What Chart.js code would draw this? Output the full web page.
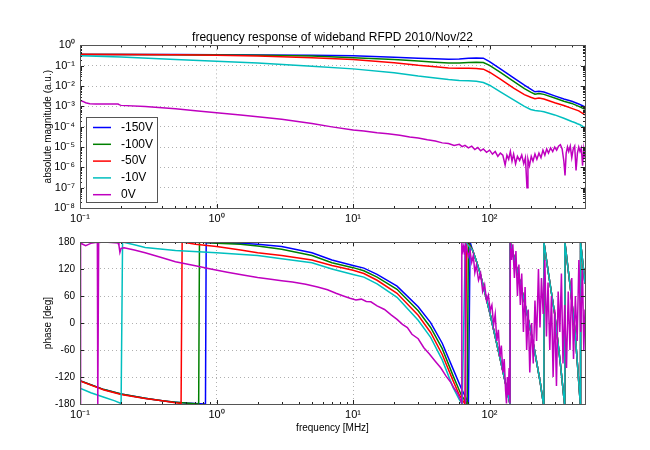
<!DOCTYPE html>
<html>
<head>
<meta charset="utf-8">
<script src="https://cdn.jsdelivr.net/npm/chart.js@4.4.0/dist/chart.umd.min.js"></script>
<style>
  html, body { margin: 0; padding: 0; background: #fff; }
  #wrap { position: relative; width: 650px; height: 450px; }
  .panel { position: absolute; left: 0; width: 650px; height: 225px; }
</style>
</head>
<body>
<div id="wrap">
  <div class="panel" style="top:0"><canvas id="magChart"></canvas></div>
  <div class="panel" style="top:225px"><canvas id="phaseChart"></canvas></div>
</div>
<script>
// ---- series and axes ----
const seriesLabels = ['-150V', '-100V', '-50V', '-10V', '0V'];
const seriesColors = ['#0000ff', '#008000', '#ff0000', '#00bfbf', '#bf00bf'];

const freqTicks = [0.1, 1, 10, 100];
const freqTickLabels = ['10⁻¹', '10⁰', '10¹', '10²'];
const magTicks = [1e-8, 1e-7, 1e-6, 1e-5, 1e-4, 1e-3, 1e-2, 1e-1, 1];
const magTickLabels = ['10⁻⁸', '10⁻⁷', '10⁻⁶', '10⁻⁵', '10⁻⁴', '10⁻³', '10⁻²', '10⁻¹', '10⁰'];
const phaseTicks = [-180, -120, -60, 0, 60, 120, 180];

// ---- magnitude (a.u.) ----
const magFreq = [0.1, 0.2, 0.5, 1, 2, 5, 10, 20, 30, 40,
                 50, 60, 70, 80, 90, 100, 120, 150, 180, 200,
                 215, 230, 250, 300, 350, 400, 450, 500];
const mag150 = [0.36, 0.36, 0.355, 0.35, 0.34, 0.33, 0.31, 0.26, 0.235, 0.22,
                0.21, 0.215, 0.23, 0.24, 0.235, 0.16, 0.07, 0.025, 0.011, 0.007,
                0.0052, 0.0056, 0.0051, 0.0033, 0.0023, 0.0018, 0.0013, 0.00095];
const mag100 = [0.36, 0.355, 0.35, 0.34, 0.33, 0.3, 0.25, 0.2, 0.17, 0.15,
                0.135, 0.135, 0.145, 0.15, 0.145, 0.105, 0.047, 0.017, 0.0075, 0.005,
                0.004, 0.0043, 0.0039, 0.0026, 0.0018, 0.0014, 0.001, 0.00072];
const mag50 = [0.37, 0.36, 0.345, 0.33, 0.3, 0.25, 0.2, 0.14, 0.105, 0.09,
               0.078, 0.075, 0.075, 0.074, 0.068, 0.048, 0.022, 0.008, 0.0038, 0.0028,
               0.0024, 0.0026, 0.0023, 0.0015, 0.0011, 0.0008, 0.0006, 0.00038];
const magFreq10 = [0.1, 0.2, 0.5, 1, 2, 5, 10, 20, 30, 40,
                   50, 60, 70, 80, 90, 100, 120, 150, 180, 200,
                   215, 230, 250, 300, 350, 400, 420, 440, 460, 475,
                   490, 500];
const mag10 = [0.31, 0.27, 0.2, 0.165, 0.135, 0.095, 0.07, 0.045, 0.031, 0.025,
               0.021, 0.019, 0.018, 0.017, 0.015, 0.011, 0.0052, 0.0021, 0.001, 0.0007,
               0.00062, 0.0006, 0.00054, 0.00038, 0.00026, 0.00018, 0.00016, 0.00014, 0.000125, 0.00011,
               0.000095, 0.00008];
const magFreq0 = [0.1, 0.105, 0.11, 0.118, 0.13, 0.15, 0.17, 0.19, 0.195, 0.2,
                  0.3, 0.5, 0.7, 1, 1.5, 2, 3, 5, 7, 10,
                  12, 15, 18, 22, 26, 30, 35, 40, 45, 50,
                  55, 60, 63, 66, 70, 74, 78, 82, 86, 90,
                  95, 100, 105, 110, 115, 120, 125, 130, 134, 138,
                  142, 146, 150, 155, 160, 166, 172, 178, 183, 188,
                  191, 196, 202, 208, 215, 222, 230, 238, 246, 254,
                  262, 270, 280, 290, 300, 310, 320, 330, 340, 350,
                  357, 364, 372, 380, 390, 400, 410, 420, 430, 440,
                  450, 460, 470, 480, 490, 500];
const mag0 = [2.0e-3, 1.75e-3, 1.5e-3, 1.35e-3, 1.32e-3, 1.3e-3, 1.3e-3, 1.3e-3, 1.18e-3, 1.12e-3,
              9.8e-4, 7.6e-4, 6.1e-4, 4.8e-4, 3.8e-4, 3.1e-4, 2.3e-4, 1.45e-4, 9.8e-5, 6.8e-5,
              6.2e-5, 5.0e-5, 4.5e-5, 3.8e-5, 3.1e-5, 2.8e-5, 2.3e-5, 2.0e-5, 1.6e-5, 1.5e-5,
              1.2e-5, 1.35e-5, 1.05e-5, 1.2e-5, 9e-6, 1.1e-5, 7.5e-6, 9.5e-6, 6.5e-6, 8e-6,
              5.5e-6, 7e-6, 4.5e-6, 6e-6, 3.5e-6, 5e-6, 4e-6, 1.3e-6, 4e-6, 2.5e-6,
              6e-6, 2e-6, 4.5e-6, 1.5e-6, 3.5e-6, 2.2e-6, 4e-6, 1.5e-6, 3e-6, 1e-7,
              2.5e-6, 1.2e-6, 3.5e-6, 2e-6, 4.5e-6, 2.5e-6, 5e-6, 3e-6, 7e-6, 4e-6,
              8e-6, 5e-6, 9e-6, 6e-6, 1.0e-5, 7e-6, 1.1e-5, 1.3e-5, 8e-6, 2e-6,
              4e-7, 5e-6, 1.0e-5, 6e-6, 1.1e-5, 3e-6, 8e-6, 1.1e-5, 7e-7, 5e-6,
              1.0e-5, 6e-6, 9e-6, 1.2e-6, 8e-6, 3e-6];

// ---- phase (deg) ----
const phaseFreq150 = [0.1, 0.15, 0.2, 0.3, 0.4, 0.5, 0.6, 0.7, 0.83, 0.84,
                      1, 1.5, 2, 3, 5, 7, 10, 12, 15, 21,
                      30, 37, 45, 54, 62, 70, 72];
const phase150 = [-128, -148, -158, -167, -173, -176, -178, -179, -180, 179,
                  178, 177, 175, 170, 156, 140, 128, 122, 108, 82,
                  36, 1, -45, -102, -145, -178, 180];
const phaseFreq100 = [0.1, 0.15, 0.2, 0.3, 0.4, 0.5, 0.6, 0.74, 0.75, 1,
                      1.5, 2, 3, 5, 7, 10, 12, 15, 21, 30,
                      37, 45, 54, 62, 68.5, 70];
const phase100 = [-128, -148, -158, -167, -173, -176, -178, -180, 180, 177,
                  175, 171, 164, 150, 134, 123, 116, 102, 75, 27,
                  -10, -57, -117, -160, -180, 180];
const phaseFreq50 = [0.1, 0.15, 0.2, 0.3, 0.4, 0.5, 0.55, 0.56, 0.7, 1,
                     1.5, 2, 3, 5, 7, 10, 12, 15, 21, 30,
                     37, 45, 54, 60, 66, 68];
const phase50 = [-129, -149, -159, -168, -173, -177, -179, 180, 175, 170,
                 162, 156, 150, 140, 128, 117, 110, 95, 66, 17,
                 -21, -70, -128, -160, -180, 180];
const phaseFreq10 = [0.1, 0.12, 0.15, 0.18, 0.2, 0.205, 0.25, 0.3, 0.5, 1,
                     2, 3, 5, 7, 10, 12, 15, 21, 30, 37,
                     45, 54, 60, 63, 66.5];
const phase10 = [-145, -155, -165, -173, -179, 180, 174, 168, 161, 156,
                 150, 143, 134, 120, 108, 102, 87, 57, 6, -32,
                 -82, -143, -170, -180, 180];
// above ~75 MHz the four biased curves lie on one wrapped line
const phaseTailFreq = [75, 80, 85, 92, 100, 108, 118, 130, 141, 141.5,
                       150, 166, 188, 211, 235, 248, 250, 270, 300, 330,
                       354, 356, 390, 420, 440, 462, 464, 500];
const phaseTail = [162, 138, 112, 70, 25, -20, -72, -130, -180, 180,
                   150, 96, 22, -52, -132, -180, 180, 110, 20, -90,
                   -180, 180, 80, -10, -90, -180, 180, 88];
const phaseFreq0 = [0.1, 0.101, 0.103, 0.11, 0.12, 0.13, 0.134, 0.135, 0.137, 0.15,
                    0.17, 0.19, 0.193, 0.196, 0.2, 0.21, 0.25, 0.3, 0.4, 0.5,
                    0.7, 0.87, 1.2, 1.6, 2, 2.5, 3, 3.6, 4.5, 5.5,
                    6.5, 7.5, 8.5, 9.5, 10.5, 11.5, 12.5, 13.5, 15, 17,
                    19, 21, 23, 25, 27, 30, 33, 36, 40, 44,
                    48, 52, 55, 58, 60, 61.5, 62.3, 62.6, 63.5, 64.5,
                    65.5, 66.2, 66.5, 66.8, 68, 70, 72, 74, 76, 78,
                    80, 83, 86, 89, 92, 95, 98, 101, 104, 107,
                    110, 113, 116, 119, 122, 125, 128, 131, 133, 135,
                    137, 139, 141, 142, 145, 148, 152, 156, 160, 164,
                    168, 172, 177, 182, 187, 192, 197, 203, 209, 215,
                    221, 228, 234, 240, 247, 254, 261, 268, 276, 284,
                    292, 300, 309, 318, 327, 336, 345, 355, 366, 377,
                    388, 400, 412, 425, 438, 451, 465, 479, 490, 500];
const phase0 = [-180, 178, 176, 172, 177, 179, 179, -180, 179, 180,
                179, 178, 172, 157, 166, 167, 162, 156, 145, 136,
                127, 121, 113, 106, 101, 97, 94, 91, 86, 80,
                74, 66, 60, 55, 51, 53, 48, 47, 38, 30,
                18, 8, -3, -10, -25, -35, -55, -68, -85, -100,
                -118, -132, -145, -155, -165, -172, -178, 178, 160, 170,
                152, 172, -179, 176, 165, 148, 160, 135, 150, 112,
                128, 95, 110, 70, 85, 50, 62, 28, 40, -5,
                20, -40, -15, -75, -50, -110, -80, -150, -179, -120,
                -160, -100, -179, 178, 140, 175, 100, 160, 60, 130,
                40, 110, -20, 80, -60, 30, -110, 0, -90, 50,
                -40, 120, -10, 100, 20, 140, -30, 90, -60, 60,
                -120, 30, -140, 70, -20, 110, -90, 40, -100, 70,
                -60, 100, -80, 60, -40, 140, -20, 120, -60, 30];

Chart.defaults.font.family = '"Liberation Sans", Arial, sans-serif';
Chart.defaults.font.size = 10;
Chart.defaults.color = '#000';

function toPoints(xs, ys) {
    return xs.map((x, i) => ({ x: x, y: ys[i] }));
}

// order: magenta drawn on top, blue at the bottom
function makeDataset(i, points) {
    return {
        label: seriesLabels[i],
        data: points,
        borderColor: seriesColors[i],
        backgroundColor: seriesColors[i],
        borderWidth: 1.5,
        pointRadius: 0,
        tension: 0,
        fill: false,
        order: 5 - i
    };
}

const magDatasets = [
    makeDataset(0, toPoints(magFreq, mag150)),
    makeDataset(1, toPoints(magFreq, mag100)),
    makeDataset(2, toPoints(magFreq, mag50)),
    makeDataset(3, toPoints(magFreq10, mag10)),
    makeDataset(4, toPoints(magFreq0, mag0))
];
const tail = toPoints(phaseTailFreq, phaseTail);
const phaseDatasets = [
    makeDataset(0, toPoints(phaseFreq150, phase150).concat(tail)),
    makeDataset(1, toPoints(phaseFreq100, phase100).concat(tail)),
    makeDataset(2, toPoints(phaseFreq50, phase50).concat(tail)),
    makeDataset(3, toPoints(phaseFreq10, phase10).concat(tail)),
    makeDataset(4, toPoints(phaseFreq0, phase0))
];

// minor tick positions for log axes (2..9 per decade)
function logMinors(lo, hi) {
    const out = [];
    for (let d = Math.floor(Math.log10(lo)); d <= Math.ceil(Math.log10(hi)); d++) {
        for (let m = 2; m <= 9; m++) {
            const v = m * Math.pow(10, d);
            if (v > lo && v < hi) out.push(v);
        }
    }
    return out;
}

// axes frame with inward tick marks, like matplotlib
const framePlugin = {
    id: 'frame',
    afterDatasetsDraw(chart, args, opts) {
        const { ctx, chartArea: a, scales } = chart;
        const xs = scales.x, ys = scales.y;
        ctx.save();
        ctx.strokeStyle = '#222';
        ctx.lineWidth = 1;
        ctx.beginPath();
        const tx = (v, len) => {
            const p = Math.round(xs.getPixelForValue(v)) + 0.5;
            ctx.moveTo(p, a.bottom); ctx.lineTo(p, a.bottom - len);
            ctx.moveTo(p, a.top); ctx.lineTo(p, a.top + len);
        };
        const ty = (v, len) => {
            const p = Math.round(ys.getPixelForValue(v)) + 0.5;
            ctx.moveTo(a.left, p); ctx.lineTo(a.left + len, p);
            ctx.moveTo(a.right, p); ctx.lineTo(a.right - len, p);
        };
        freqTicks.forEach(v => tx(v, 4));
        logMinors(xs.min, xs.max).forEach(v => tx(v, 2));
        if (ys.type === 'logarithmic') {
            magTicks.forEach(v => ty(v, 4));
            logMinors(ys.min, ys.max).forEach(v => ty(v, 2));
        } else {
            phaseTicks.forEach(v => ty(v, 4));
        }
        ctx.stroke();
        ctx.strokeStyle = '#555';
        ctx.strokeRect(Math.round(a.left) + 0.5, Math.round(a.top) + 0.5,
                       Math.round(a.right - a.left), Math.round(a.bottom - a.top));
        ctx.restore();
    }
};

// boxed legend in the lower-left corner of the magnitude plot
const legendPlugin = {
    id: 'insetLegend',
    afterDraw(chart) {
        const ctx = chart.ctx;
        const x0 = 86, y0 = 117, w = 71, h = 85, rowH = 16.8;
        ctx.save();
        ctx.fillStyle = '#fff';
        ctx.fillRect(x0, y0, w, h);
        ctx.strokeStyle = '#555';
        ctx.lineWidth = 1;
        ctx.strokeRect(x0 + 0.5, y0 + 0.5, w, h);
        ctx.font = '12px "Liberation Sans", Arial, sans-serif';
        ctx.textBaseline = 'middle';
        chart.data.datasets.forEach((ds, i) => {
            const y = y0 + 10.5 + i * rowH;
            ctx.strokeStyle = ds.borderColor;
            ctx.lineWidth = 1.5;
            ctx.beginPath();
            ctx.moveTo(x0 + 7, y);
            ctx.lineTo(x0 + 25, y);
            ctx.stroke();
            ctx.fillStyle = '#000';
            ctx.fillText(ds.label, x0 + 35, y);
        });
        ctx.restore();
    }
};

function xAxis(height, showTitle) {
    return {
        type: 'logarithmic',
        min: 0.1,
        max: 500,
        afterBuildTicks: s => { s.ticks = freqTicks.map(v => ({ value: v })); },
        afterFit: s => { s.height = height; },
        ticks: {
            autoSkip: false, maxRotation: 0, padding: 4, font: { size: 11 },
            callback: v => freqTickLabels[freqTicks.indexOf(v)] || ''
        },
        grid: { color: '#b0b0b0', drawTicks: false },
        border: { display: false, dash: [1, 3] },
        title: {
            display: showTitle, text: 'frequency [MHz]',
            font: { size: 10 }, padding: { top: 0, bottom: 16 }
        }
    };
}

function yTitle(text) {
    return { display: true, text: text, font: { size: 10 }, padding: { top: 42, bottom: 0 } };
}

const baseOptions = {
    responsive: true,
    maintainAspectRatio: false,
    animation: false,
    events: [],
    elements: { line: { tension: 0 } }
};

new Chart(document.getElementById('magChart'), {
    type: 'line',
    data: { datasets: magDatasets },
    options: {
        ...baseOptions,
        layout: { padding: { left: 0, right: 65, top: 30, bottom: 0 } },
        plugins: {
            legend: { display: false },
            tooltip: { enabled: false },
            title: {
                display: true,
                text: 'frequency response of wideband RFPD 2010/Nov/22',
                fullSize: false,
                color: '#000',
                font: { size: 12, weight: 'normal' },
                padding: { top: 0, bottom: 1 }
            }
        },
        scales: {
            x: xAxis(17, false),
            y: {
                type: 'logarithmic',
                min: 1e-8,
                max: 1,
                afterBuildTicks: s => { s.ticks = magTicks.map(v => ({ value: v })); },
                afterFit: s => { s.width = 80; },
                ticks: {
                    autoSkip: false, padding: 5, font: { size: 11 },
                    callback: v => magTickLabels[magTicks.indexOf(v)] || ''
                },
                grid: { color: '#b0b0b0', drawTicks: false },
                border: { display: false, dash: [1, 3] },
                title: yTitle('absolute magnitude (a.u.)')
            }
        }
    },
    plugins: [framePlugin, legendPlugin]
});

new Chart(document.getElementById('phaseChart'), {
    type: 'line',
    data: { datasets: phaseDatasets },
    options: {
        ...baseOptions,
        layout: { padding: { left: 0, right: 65, top: 17, bottom: 0 } },
        plugins: {
            legend: { display: false },
            tooltip: { enabled: false }
        },
        scales: {
            x: xAxis(46, true),
            y: {
                type: 'linear',
                min: -180,
                max: 180,
                afterBuildTicks: s => { s.ticks = phaseTicks.map(v => ({ value: v })); },
                afterFit: s => { s.width = 80; },
                ticks: { autoSkip: false, padding: 5 },
                grid: { color: '#b0b0b0', drawTicks: false },
                border: { display: false, dash: [1, 3] },
                title: yTitle('phase [deg]')
            }
        }
    },
    plugins: [framePlugin]
});
</script>
</body>
</html>
